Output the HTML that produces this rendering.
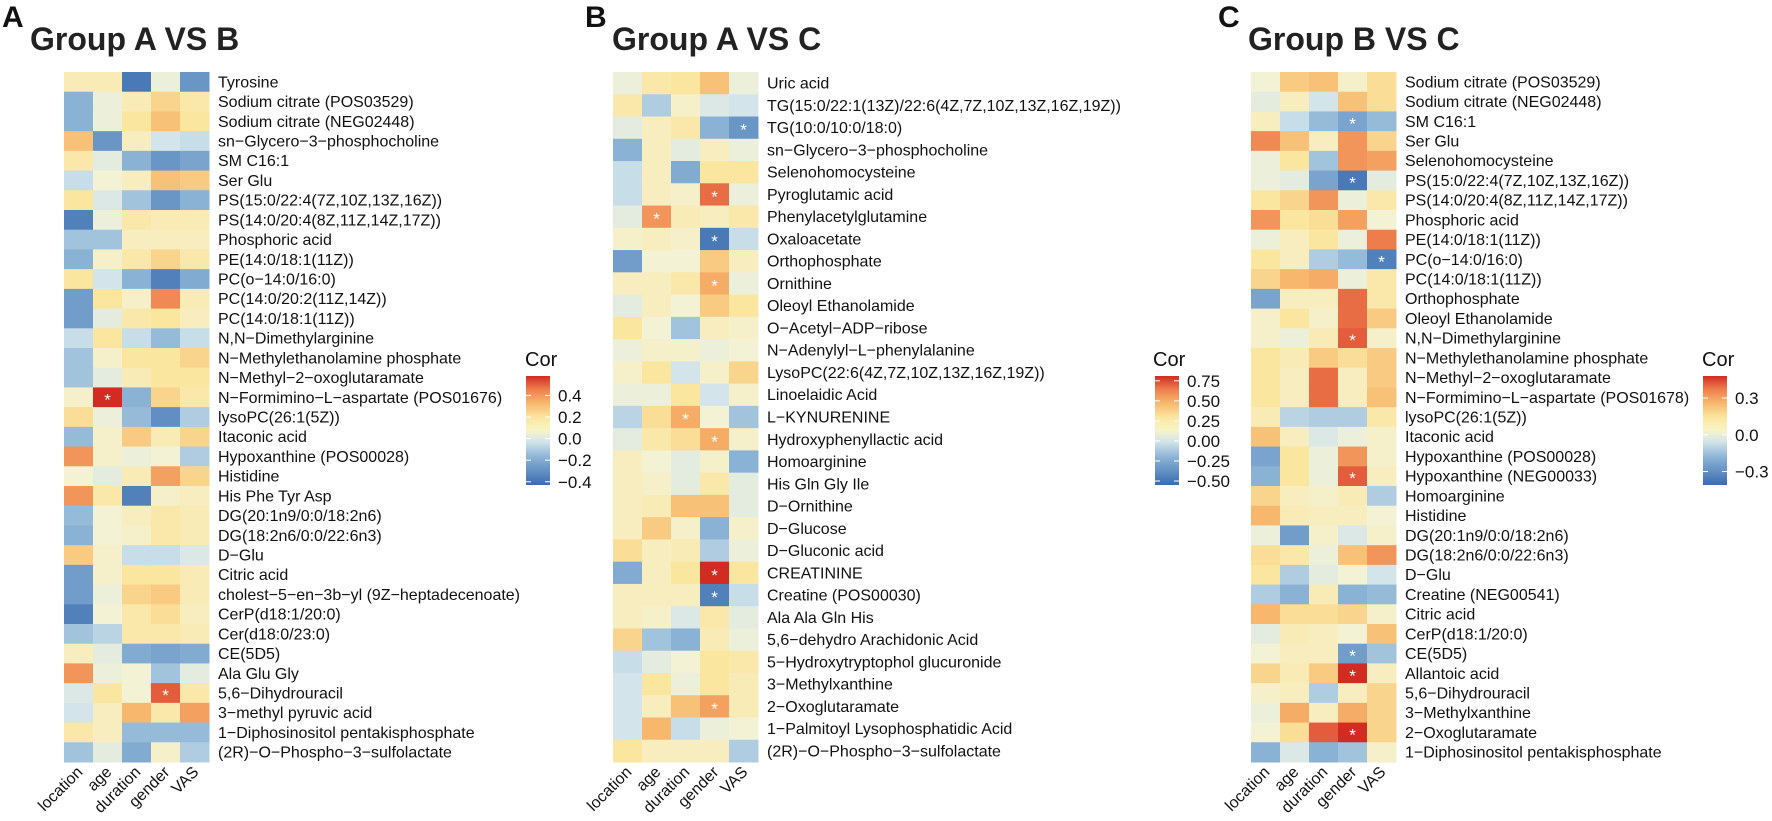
<!DOCTYPE html>
<html><head><meta charset="utf-8"><style>
body{margin:0;background:#fff;}
svg{display:block;font-family:"Liberation Sans",Arial,sans-serif;}
</style></head><body>
<svg id="fig" width="1772" height="821" viewBox="0 0 1772 821">
<defs>
<linearGradient id="cbar" x1="0" y1="1" x2="0" y2="0">
<stop offset="0" stop-color="#3a6bb0"/><stop offset="0.25" stop-color="#8ab2d5"/><stop offset="0.4" stop-color="#d3e5ea"/><stop offset="0.5" stop-color="#f7f4c8"/><stop offset="0.62" stop-color="#fbe6a0"/><stop offset="0.75" stop-color="#f7b86e"/><stop offset="0.88" stop-color="#ee7d4c"/><stop offset="1" stop-color="#d22b22"/>
</linearGradient>
</defs>
</svg>
<script>
const columns = ["location","age","duration","gender","VAS"];

const rowsA = ["Tyrosine","Sodium citrate (POS03529)","Sodium citrate (NEG02448)","sn\u2212Glycero\u22123\u2212phosphocholine","SM C16:1","Ser Glu","PS(15:0/22:4(7Z,10Z,13Z,16Z))","PS(14:0/20:4(8Z,11Z,14Z,17Z))","Phosphoric acid","PE(14:0/18:1(11Z))","PC(o\u221214:0/16:0)","PC(14:0/20:2(11Z,14Z))","PC(14:0/18:1(11Z))","N,N\u2212Dimethylarginine","N\u2212Methylethanolamine phosphate","N\u2212Methyl\u22122\u2212oxoglutaramate","N\u2212Formimino\u2212L\u2212aspartate (POS01676)","lysoPC(26:1(5Z))","Itaconic acid","Hypoxanthine (POS00028)","Histidine","His Phe Tyr Asp","DG(20:1n9/0:0/18:2n6)","DG(18:2n6/0:0/22:6n3)","D\u2212Glu","Citric acid","cholest\u22125\u2212en\u22123b\u2212yl (9Z\u2212heptadecenoate)","CerP(d18:1/20:0)","Cer(d18:0/23:0)","CE(5D5)","Ala Glu Gly","5,6\u2212Dihydrouracil","3\u2212methyl pyruvic acid","1\u2212Diphosinositol pentakisphosphate","(2R)\u2212O\u2212Phospho\u22123\u2212sulfolactate"];
const valuesA = [
[0.15,0.15,-0.9,-0.05,-0.7],[-0.5,-0.05,0.15,0.35,0.2],[-0.5,-0.05,0.25,0.45,0.25],[0.45,-0.7,0.1,-0.2,-0.25],[0.2,-0.1,-0.5,-0.7,-0.6],
[-0.25,0,0.1,0.45,0.4],[0.25,-0.15,-0.4,-0.7,-0.5],[-0.85,-0.05,0.2,0.15,0.15],[-0.4,-0.4,0.1,0.1,0.1],[-0.5,0.05,0.2,0.35,0.2],
[0.25,-0.2,-0.5,-0.85,-0.55],[-0.65,0.25,0.05,0.7,0.15],[-0.65,-0.1,0.2,0.25,0.1],[-0.25,0.25,-0.25,-0.45,-0.25],[-0.4,0.05,0.25,0.25,0.35],
[-0.4,-0.1,0.15,0.25,0.25],[0.05,1.0,-0.5,0.35,0.2],[0.3,-0.05,-0.45,-0.75,-0.35],[-0.45,0.05,0.4,0.15,0.35],[0.65,0.05,-0.05,0,-0.35],
[0,-0.1,0.15,0.6,0.35],[0.65,0.2,-0.85,0.05,0.1],[-0.45,0,0.1,0.2,0.15],[-0.5,0,0.05,0.2,0.15],[0.4,0.05,-0.25,-0.25,-0.15],
[-0.65,0.05,0.25,0.25,0.15],[-0.65,-0.05,0.35,0.4,0.15],[-0.85,0,0.2,0.3,0.1],[-0.4,-0.3,0.2,0.2,0.15],[0.1,-0.1,-0.55,-0.6,-0.55],
[0.65,-0.05,0,-0.4,-0.1],[-0.15,0.25,0,0.85,0.2],[-0.2,0.1,0.5,0.2,0.6],[0.2,0.1,-0.45,-0.45,-0.45],[-0.4,-0.1,-0.55,0.05,-0.35]];
const starsA = [[16,1],[31,3]];
const ticksA = ["0.4","0.2","0.0","\u22120.2","\u22120.4"];
const tickValsA = [0.4,0.2,0,-0.2,-0.4];

const rowsB = ["Uric acid","TG(15:0/22:1(13Z)/22:6(4Z,7Z,10Z,13Z,16Z,19Z))","TG(10:0/10:0/18:0)","sn\u2212Glycero\u22123\u2212phosphocholine","Selenohomocysteine","Pyroglutamic acid","Phenylacetylglutamine","Oxaloacetate","Orthophosphate","Ornithine","Oleoyl Ethanolamide","O\u2212Acetyl\u2212ADP\u2212ribose","N\u2212Adenylyl\u2212L\u2212phenylalanine","LysoPC(22:6(4Z,7Z,10Z,13Z,16Z,19Z))","Linoelaidic Acid","L\u2212KYNURENINE","Hydroxyphenyllactic acid","Homoarginine","His Gln Gly Ile","D\u2212Ornithine","D\u2212Glucose","D\u2212Gluconic acid","CREATININE","Creatine (POS00030)","Ala Ala Gln His","5,6\u2212dehydro Arachidonic Acid","5\u2212Hydroxytryptophol glucuronide","3\u2212Methylxanthine","2\u2212Oxoglutaramate","1\u2212Palmitoyl Lysophosphatidic Acid","(2R)\u2212O\u2212Phospho\u22123\u2212sulfolactate"];
const valuesB = [
[-0.05,0.2,0.25,0.45,-0.05],[0.2,-0.35,0.05,-0.15,-0.2],[-0.1,0.1,0.2,-0.5,-0.7],[-0.5,0.1,-0.1,0.1,-0.05],[-0.25,0.1,-0.55,0.25,0.25],
[-0.25,0.1,0.05,0.8,-0.05],[-0.1,0.65,0.15,0.1,0.2],[0.05,0.1,0.05,-0.9,-0.25],[-0.65,0,0,0.4,0.1],[0.1,0.1,0.2,0.55,-0.05],
[-0.1,0.1,0,0.4,0.25],[0.25,0,-0.4,0.1,0.05],[-0.05,0.05,0.05,-0.05,0],[0.05,0.25,-0.2,0.05,0.35],[-0.05,-0.05,0.25,-0.2,0.05],
[-0.3,0.3,0.55,0,-0.4],[-0.1,0.2,0.3,0.55,0.05],[0.1,0,-0.1,0.05,-0.5],[0.1,0.05,-0.1,0.2,-0.1],[0.1,0.15,0.45,0.45,-0.1],
[0.1,0.4,0.05,-0.5,0.05],[0.3,0.1,0.15,-0.35,-0.05],[-0.55,0.1,0.25,1.0,0.25],[0.1,0.1,0.1,-0.85,-0.25],[0.1,0.05,-0.15,0.2,-0.1],
[0.35,-0.4,-0.5,0.15,-0.05],[-0.25,-0.1,0,0.25,0.2],[-0.2,0.25,-0.05,0.25,0.15],[-0.2,0.1,0.45,0.6,0.15],[-0.2,0.5,-0.25,-0.05,0],[0.25,0.1,0.1,0.1,-0.35]];
const starsB = [[2,4],[5,3],[6,1],[7,3],[9,3],[15,2],[16,3],[22,3],[23,3],[28,3]];
const ticksB = ["0.75","0.50","0.25","0.00","\u22120.25","\u22120.50"];
const tickValsB = [0.75,0.5,0.25,0,-0.25,-0.5];

const rowsC = ["Sodium citrate (POS03529)","Sodium citrate (NEG02448)","SM C16:1","Ser Glu","Selenohomocysteine","PS(15:0/22:4(7Z,10Z,13Z,16Z))","PS(14:0/20:4(8Z,11Z,14Z,17Z))","Phosphoric acid","PE(14:0/18:1(11Z))","PC(o\u221214:0/16:0)","PC(14:0/18:1(11Z))","Orthophosphate","Oleoyl Ethanolamide","N,N\u2212Dimethylarginine","N\u2212Methylethanolamine phosphate","N\u2212Methyl\u22122\u2212oxoglutaramate","N\u2212Formimino\u2212L\u2212aspartate (POS01678)","lysoPC(26:1(5Z))","Itaconic acid","Hypoxanthine (POS00028)","Hypoxanthine (NEG00033)","Homoarginine","Histidine","DG(20:1n9/0:0/18:2n6)","DG(18:2n6/0:0/22:6n3)","D\u2212Glu","Creatine (NEG00541)","Citric acid","CerP(d18:1/20:0)","CE(5D5)","Allantoic acid","5,6\u2212Dihydrouracil","3\u2212Methylxanthine","2\u2212Oxoglutaramate","1\u2212Diphosinositol pentakisphosphate"];
const valuesC = [
[0,0.4,0.45,0.05,0.3],[-0.1,0.1,-0.2,0.45,0.3],[0.1,-0.25,-0.45,-0.6,-0.45],[0.7,0.45,0.1,0.65,0.35],[-0.05,0.25,-0.4,0.65,0.6],
[-0.05,-0.1,-0.6,-0.9,-0.1],[0.25,0.35,0.65,-0.05,0.2],[0.65,0.25,0.3,0.6,0],[-0.05,0.1,0.25,-0.05,0.75],[0.25,0.1,-0.35,-0.45,-0.85],
[0.35,0.5,0.55,-0.05,0.2],[-0.6,0.1,0.1,0.8,0.2],[0.05,0.25,0.05,0.8,0.4],[0.05,-0.05,0.15,0.85,0.05],[0.25,0.15,0.4,0.3,0.4],
[0.25,0.1,0.8,0.1,0.4],[0.25,0.1,0.8,0.1,0.45],[0.15,-0.3,-0.35,-0.35,0.2],[0.45,0.1,-0.15,-0.05,0.05],[-0.6,0.25,-0.05,0.65,0.05],
[-0.5,0.25,-0.05,0.85,0.1],[0.35,0.1,0.05,0.15,-0.35],[0.5,0.15,0.1,0.1,0],[-0.05,-0.65,0.05,-0.15,0.05],[0.3,0.2,-0.05,0.45,0.65],
[0.25,-0.35,-0.1,0,-0.2],[-0.35,-0.5,0.15,-0.5,-0.45],[0.5,0.3,0.3,0.35,0.05],[-0.1,0.15,0.1,0,0.45],[0,0.1,0.1,-0.65,-0.4],
[0.35,0.15,0.4,1.0,0.1],[0.05,0.1,-0.35,0.1,0.35],[-0.05,0.55,0.1,0.55,0.35],[0,0.3,0.85,1.0,0.35],[-0.5,-0.15,-0.5,-0.4,0.05]];
const starsC = [[2,3],[5,3],[9,4],[13,3],[20,3],[29,3],[30,3],[33,3]];
const ticksC = ["0.3","0.0","\u22120.3"];
const tickValsC = [0.3,0,-0.3];

const NS="http://www.w3.org/2000/svg";
const svg=document.getElementById('fig');
function mk(tag,attrs,parent){const e=document.createElementNS(NS,tag);for(const k in attrs)e.setAttribute(k,attrs[k]);(parent||svg).appendChild(e);return e;}
const stops=[[-1,[58,107,176]],[-0.5,[138,178,213]],[-0.2,[211,229,234]],[0,[244,242,212]],[0.25,[251,230,160]],[0.5,[247,184,110]],[0.75,[238,125,76]],[1,[210,43,34]]];
function color(v){v=Math.max(-1,Math.min(1,v));for(let i=1;i<stops.length;i++){if(v<=stops[i][0]){const a=stops[i-1],b=stops[i];const t=(v-a[0])/(b[0]-a[0]);const c=a[1].map((x,j)=>Math.round(x+(b[1][j]-x)*t));return `rgb(${c.join(',')})`;}}return 'rgb(210,43,34)';}

const panels=[
 {id:'a',letter:'A',title:'Group A VS B',lx:2,tx:30,x0:64,rows:rowsA,vals:valuesA,stars:starsA,ticks:ticksA,tv:tickValsA,leg:{x:526,cor:525,lo:-0.43,hi:0.58}},
 {id:'b',letter:'B',title:'Group A VS C',lx:585,tx:612,x0:613,rows:rowsB,vals:valuesB,stars:starsB,ticks:ticksB,tv:tickValsB,leg:{x:1155,cor:1153,lo:-0.55,hi:0.81}},
 {id:'c',letter:'C',title:'Group B VS C',lx:1218,tx:1248,x0:1251,rows:rowsC,vals:valuesC,stars:starsC,ticks:ticksC,tv:tickValsC,leg:{x:1703,cor:1702,lo:-0.41,hi:0.48}}
];
const topY=72,bottomY=762,cw=29;
panels.forEach(p=>{
 const g=mk('g',{});
 
 
 const L=mk('text',{x:p.lx,y:27,'font-size':30,'font-weight':'bold',fill:'#111'},g);L.textContent=p.letter;
 
 
 const T=mk('text',{x:p.tx,y:50,'font-size':32,'font-weight':'bold',fill:'#222'},g);T.textContent=p.title;
 
 
 const n=p.rows.length, rh=(bottomY-topY)/n;
 const yScale=i=>topY+i*rh, xScale=j=>p.x0+j*cw;
 p.vals.forEach((row,i)=>row.forEach((v,j)=>{
  const r=mk('rect',{x:xScale(j),y:yScale(i),width:cw+0.5,height:rh+0.5,fill:color(v)},g);
  
  
 }));
 p.stars.forEach(s=>{
  const t=mk('text',{x:xScale(s[1])+cw/2,y:yScale(s[0])+rh/2+8,'font-size':17,fill:'#fff','text-anchor':'middle'},g);t.textContent='*';
  
  
 });
 p.rows.forEach((name,i)=>{
  const t=mk('text',{x:p.x0+5*cw+9,y:yScale(i)+rh/2+5.5,'font-size':16,fill:'#111'},g);t.textContent=name;
  
  
 });
 columns.forEach((c,j)=>{
  const cx=xScale(j)+cw/2+5, cy=bottomY+11;
  const t=mk('text',{x:cx,y:cy,'font-size':16,fill:'#111','text-anchor':'end',transform:`rotate(-45 ${cx} ${cy})`},g);t.textContent=c;
  
  
 });
 const lg=mk('g',{},g);
 
 
 const ct=mk('text',{x:p.leg.cor,y:366,'font-size':20,fill:'#111'},lg);ct.textContent='Cor';
 const bt=376,bb=485,bw=24;
 mk('rect',{x:p.leg.x,y:bt,width:bw,height:bb-bt,fill:'url(#cbar)'},lg);
 const ly=v=>bb-(v-p.leg.lo)/(p.leg.hi-p.leg.lo)*(bb-bt);
 p.ticks.forEach((lab,k)=>{
  const y=ly(p.tv[k]);
  mk('line',{x1:p.leg.x,x2:p.leg.x+5,y1:y,y2:y,stroke:'#fff','stroke-width':1},lg);
  mk('line',{x1:p.leg.x+bw-5,x2:p.leg.x+bw,y1:y,y2:y,stroke:'#fff','stroke-width':1},lg);
  const t=mk('text',{x:p.leg.x+bw+8,y:y+6,'font-size':17,fill:'#111'},lg);t.textContent=lab;
  
  
 });
});
</script>
</body></html>
